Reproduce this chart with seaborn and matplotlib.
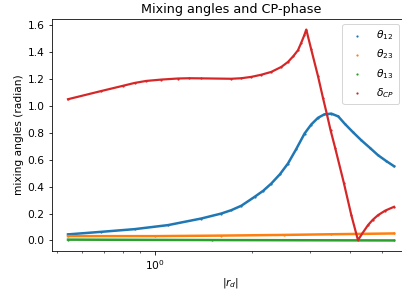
import seaborn as sns
import matplotlib.pyplot as plt
import numpy as np
import pandas as pd

# values
r_t12 = [0.5415, 0.6856, 0.868, 1.100, 1.392, 1.604, 1.722, 1.849, 2.031, 2.161,
         2.286, 2.430, 2.573, 2.729, 2.894, 3.034, 3.184, 3.328, 3.498, 3.675,
         3.842, 4.070, 4.325, 4.600, 4.869, 5.150, 5.453]
theta12 = [0.045, 0.064, 0.084, 0.114, 0.163, 0.200, 0.225, 0.258, 0.324, 0.370,
           0.423, 0.492, 0.572, 0.680, 0.795, 0.862, 0.912, 0.937, 0.943, 0.922,
           0.869, 0.807, 0.745, 0.688, 0.634, 0.592, 0.552]

r_t23 = [0.5415, 1.0, 1.604, 2.5, 3.5, 5.453]
theta23 = [0.032, 0.032, 0.036, 0.041, 0.046, 0.052]

r_t13 = [0.5415, 1.5, 5.453]
theta13 = [0.006, 0.003, 0.0]

r_dcp = [0.5415, 0.6856, 0.800, 0.868, 0.943, 1.049, 1.180, 1.278, 1.392, 1.722,
         1.849, 1.984, 2.130, 2.286, 2.454, 2.573, 2.672, 2.762, 2.827, 2.888,
         2.929, 3.034, 3.184, 3.297, 3.389, 3.479, 3.593, 3.821, 4.029, 4.225,
         4.357, 4.536, 4.690, 4.869, 5.127, 5.453]
delta_cp = [1.050, 1.111, 1.150, 1.171, 1.186, 1.196, 1.204, 1.206, 1.205, 1.202,
            1.206, 1.216, 1.232, 1.253, 1.290, 1.327, 1.370, 1.414, 1.470, 1.525,
            1.568, 1.420, 1.220, 1.060, 0.940, 0.820, 0.690, 0.430, 0.190, 0.002,
            0.052, 0.114, 0.153, 0.188, 0.222, 0.250]

series = [
    (r_t12, theta12, r"$\theta_{12}$", "#1f77b4", 2.5),
    (r_t23, theta23, r"$\theta_{23}$", "#ff7f0e", 2.5),
    (r_t13, theta13, r"$\theta_{13}$", "#2ca02c", 2.5),
    (r_dcp, delta_cp, r"$\delta_{CP}$", "#d62728", 2.2),
]

plt.rcParams["font.size"] = 10.6
plt.rcParams["axes.titlesize"] = 12.7

fig = plt.figure(figsize=(402 / 72, 295 / 72), dpi=72)
ax = fig.add_axes([0.1286, 0.1492, 0.892, 0.7864])
ax.set_xscale("log")

for xs, ys, lab, col, lw in series:
    df = pd.DataFrame({"r": xs, "v": ys})
    sns.lineplot(data=df, x="r", y="v", color=col, linewidth=lw, legend=False, ax=ax)
    sns.scatterplot(data=df, x="r", y="v", color=col, s=5, linewidth=0, label=lab, ax=ax)

ax.set_title("Mixing angles and CP-phase")
ax.set_xlabel("$|r_d|$")
ax.set_ylabel("mixing angles (radian)")

ax.legend(loc="upper right", bbox_to_anchor=(404 / 402, 0.9356),
          bbox_transform=fig.transFigure)

fig.savefig("out.png", dpi=72)
